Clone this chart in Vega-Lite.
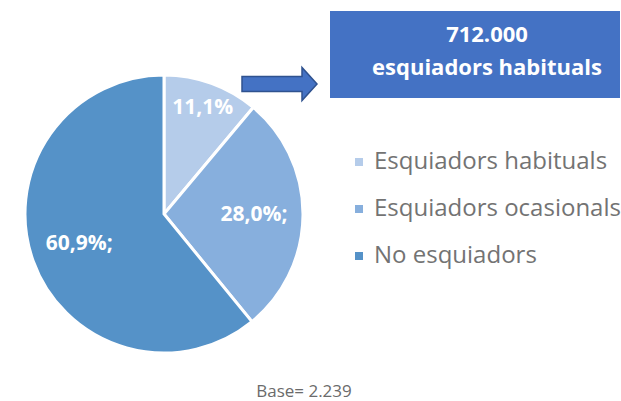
{
  "$schema": "https://vega.github.io/schema/vega-lite/v6.json",
  "width": 278,
  "height": 278,
  "autosize": {"type": "none"},
  "padding": {"left": 25, "top": 75, "right": 318, "bottom": 48},
  "background": "white",
  "config": {"view": {"stroke": null}},
  "title": {
    "text": "Base= 2.239",
    "orient": "bottom",
    "anchor": "middle",
    "dx": 140,
    "offset": 25,
    "font": "Open Sans",
    "fontSize": 17,
    "fontWeight": "normal",
    "color": "#6b6b6b"
  },
  "data": {
    "values": [
      {"cat": "Esquiadors habituals", "value": 11.1, "etiqueta": "11,1%"},
      {"cat": "Esquiadors ocasionals", "value": 28.0, "etiqueta": "28,0%;"},
      {"cat": "No esquiadors", "value": 60.9, "etiqueta": "60,9%;"}
    ]
  },
  "layer": [
    {
      "mark": {"type": "arc", "stroke": "white", "strokeWidth": 3},
      "encoding": {
        "theta": {"field": "value", "type": "quantitative", "stack": true},
        "color": {
          "field": "cat",
          "type": "nominal",
          "sort": ["Esquiadors habituals", "Esquiadors ocasionals", "No esquiadors"],
          "scale": {"range": ["#B5CCEA", "#87AFDD", "#5592C8"]},
          "legend": {
            "title": null,
            "orient": "none",
            "legendX": 322,
            "legendY": 75,
            "symbolType": "square",
            "symbolSize": 64,
            "symbolStrokeWidth": 0,
            "labelFont": "Open Sans",
            "labelFontSize": 24,
            "labelColor": "#737373",
            "labelOffset": 3,
            "rowPadding": 23,
            "padding": 0,
            "labelLimit": 400
          }
        }
      }
    },
    {
      "mark": {"type": "text", "font": "Open Sans", "fontWeight": "bold", "fontSize": 21, "color": "white", "radius": 113},
      "encoding": {
        "theta": {"field": "value", "type": "quantitative", "stack": true},
        "detail": {"field": "cat", "type": "nominal"},
        "text": {"condition": {"test": "datum.value < 20", "field": "etiqueta", "type": "nominal"}, "value": ""}
      }
    },
    {
      "mark": {"type": "text", "font": "Open Sans", "fontWeight": "bold", "fontSize": 21, "color": "white", "radius": 90},
      "encoding": {
        "theta": {"field": "value", "type": "quantitative", "stack": true},
        "detail": {"field": "cat", "type": "nominal"},
        "text": {"condition": {"test": "datum.value >= 20", "field": "etiqueta", "type": "nominal"}, "value": ""}
      }
    },
    {
      "data": {"values": [{"nota": "712.000"}]},
      "mark": {"type": "rect", "color": "#4472C4", "x": 305, "x2": 595, "y": -64, "y2": 23},
      "encoding": {}
    },
    {
      "data": {"values": [{"nota": "712.000"}]},
      "mark": {
        "type": "text",
        "text": ["712.000", "esquiadors habituals"],
        "x": 462,
        "y": -40,
        "lineHeight": 33,
        "align": "center",
        "baseline": "middle",
        "font": "Open Sans",
        "fontWeight": "bold",
        "fontSize": 22,
        "color": "white"
      },
      "encoding": {}
    },
    {
      "data": {"values": [{"nota": "flecha"}]},
      "mark": {
        "type": "point",
        "shape": "M -1 -0.2 L 0.6 -0.2 L 0.6 -0.44 L 1 0 L 0.6 0.44 L 0.6 0.2 L -1 0.2 Z",
        "size": 5625,
        "filled": true,
        "fill": "#4472C4",
        "stroke": "#2F528F",
        "strokeWidth": 1.5,
        "opacity": 1,
        "x": 254.5,
        "y": 9
      },
      "encoding": {}
    }
  ]
}
